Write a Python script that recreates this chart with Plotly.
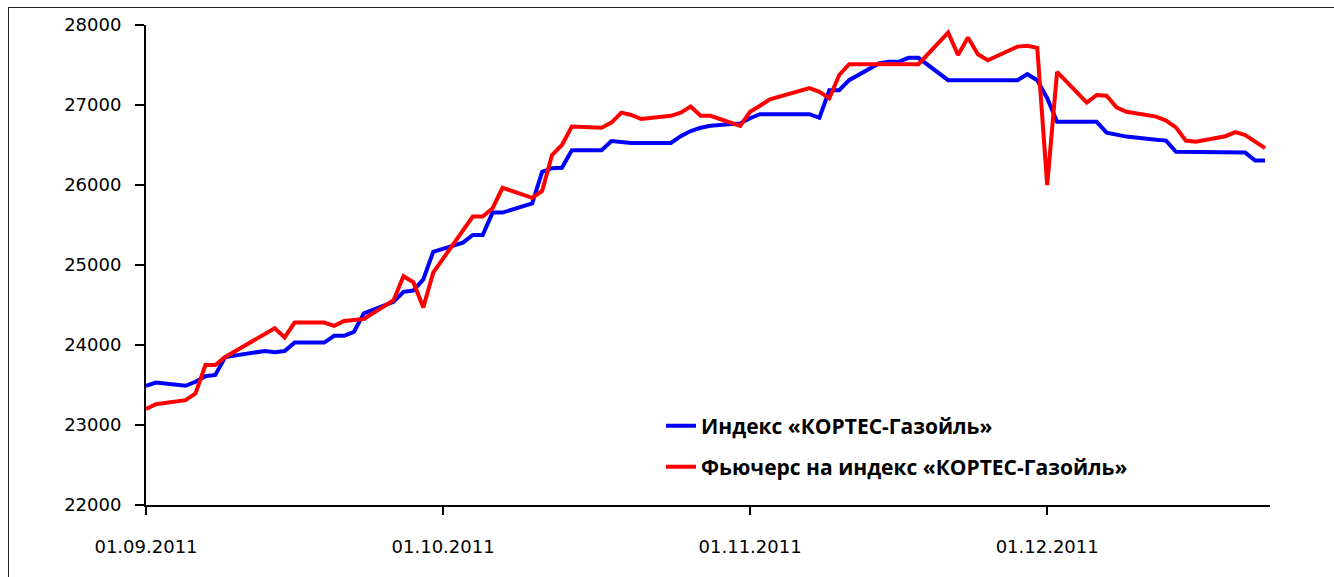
import pandas as pd
import plotly.graph_objects as go

# trading days Sep 1 - Dec 23 2011 (Nov 4 is a holiday, no quotes)
dates = [d for d in pd.bdate_range("2011-09-01", "2011-12-23") if d != pd.Timestamp("2011-11-04")]

index_sep = [23490, 23530, 23490, 23540, 23610, 23625, 23850, 23900, 23925, 23910, 23925,
             24030, 24030, 24115, 24115, 24165, 24395, 24540, 24665, 24680, 24820, 25165]
index_oct = [25280, 25375, 25375, 25655, 25655, 25770, 26165, 26210, 26215, 26435, 26435,
             26550, 26535, 26525, 26525, 26525, 26610, 26675, 26715, 26740, 26770]
index_nov = [26835, 26885, 26885, 26885, 26840, 27185, 27185, 27310, 27520, 27540, 27540,
             27590, 27590, 27310, 27310, 27310, 27310, 27310, 27310, 27385, 27310]
index_dec = [27085, 26790, 26790, 26790, 26655, 26635, 26605, 26565, 26555, 26415, 26415,
             26415, 26410, 26405, 26405, 26305, 26305]

fut_sep = [23200, 23260, 23310, 23395, 23750, 23750, 23850, 24065, 24135, 24210, 24095,
           24280, 24280, 24240, 24300, 24310, 24325, 24560, 24860, 24785, 24470, 24905]
fut_oct = [25430, 25605, 25605, 25710, 25965, 25840, 25925, 26375, 26500, 26730, 26715,
           26780, 26905, 26875, 26825, 26865, 26905, 26980, 26865, 26865, 26740]
fut_nov = [26915, 26990, 27070, 27210, 27165, 27085, 27375, 27510, 27510, 27510, 27510,
           27510, 27510, 27905, 27625, 27845, 27635, 27560, 27730, 27740, 27715]
fut_dec = [26000, 27415, 27030, 27125, 27115, 26970, 26915, 26855, 26805, 26720, 26555,
           26540, 26610, 26660, 26625, 26540, 26460]

index_vals = index_sep + index_oct + index_nov + index_dec
fut_vals = fut_sep + fut_oct + fut_nov + fut_dec

month_ticks = ["2011-09-01", "2011-10-01", "2011-11-01", "2011-12-01"]
month_labels = ["01.09.2011", "01.10.2011", "01.11.2011", "01.12.2011"]
y_ticks = [22000, 23000, 24000, 25000, 26000, 27000, 28000]
y_labels = [str(v) for v in y_ticks]

# page body margin is removed below, so figure pixels == page pixels
W, H = 1334, 577
L, R, T, B = 146, 1270, 25, 505


def px(x):
    return (x - L) / (R - L)


def py(y):
    return (B - y) / (B - T)


fig = go.Figure()
fig.add_trace(go.Scatter(x=dates, y=index_vals, mode="lines",
                         name="Индекс «КОРТЕС-Газойль»",
                         line=dict(color="#0000FF", width=4), legend="legend"))
fig.add_trace(go.Scatter(x=dates, y=fut_vals, mode="lines",
                         name="Фьючерс на индекс «КОРТЕС-Газойль»",
                         line=dict(color="#FF0000", width=4), legend="legend2"))

legend_font = dict(family="Open Sans", size=21, color="black", weight="bold")

fig.update_layout(
    width=W, height=H,
    margin=dict(l=L, r=W - R, t=T, b=H - B),
    paper_bgcolor="white", plot_bgcolor="white",
    font=dict(family="DejaVu Sans", size=18, color="black"),
    showlegend=True,
    legend=dict(x=px(661), y=py(426), xanchor="left", yanchor="middle",
                font=legend_font, bgcolor="rgba(0,0,0,0)"),
    legend2=dict(x=px(661), y=py(467), xanchor="left", yanchor="middle",
                 font=legend_font, bgcolor="rgba(0,0,0,0)"),
    xaxis=dict(type="date", range=["2011-09-01", "2011-12-23 12:00"],
               tickvals=month_ticks, ticktext=month_labels,
               showgrid=False, zeroline=False,
               showline=True, linecolor="black", linewidth=2,
               ticks="outside", ticklen=8, tickwidth=1.5, tickcolor="black",
               ticklabelstandoff=16),
    yaxis=dict(range=[22000, 28000], tickvals=y_ticks, ticktext=y_labels,
               showgrid=False, zeroline=False,
               showline=True, linecolor="black", linewidth=2,
               ticks="outside", ticklen=9, tickwidth=2, tickcolor="black",
               ticklabelstandoff=10),
    shapes=[
        dict(type="line", xref="paper", yref="paper", x0=px(8), x1=px(W), y0=py(7.5), y1=py(7.5),
             line=dict(color="#222222", width=1)),
        dict(type="line", xref="paper", yref="paper", x0=px(8.5), x1=px(8.5), y0=py(7.5), y1=py(H),
             line=dict(color="#222222", width=1)),
    ],
)

fig.write_html("out.html", config={"displayModeBar": False},
               post_script="document.body.style.margin='0';")
